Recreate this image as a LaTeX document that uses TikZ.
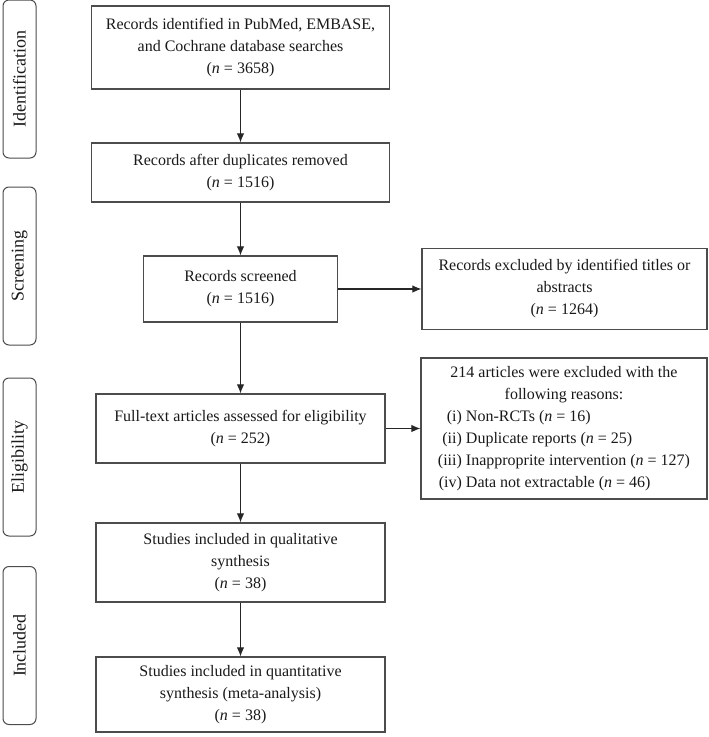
\documentclass[tikz,border=0pt]{standalone}
\usepackage{fontspec}
\setmainfont{Liberation Serif}
\usetikzlibrary{arrows.meta}

\begin{document}
\begin{tikzpicture}[x=1pt,y=-1pt,
  font=\fontsize{16}{22}\selectfont,
  box/.style={draw=black!70,line width=1.2pt,align=center,inner sep=0pt,text=black!90},
  phase/.style={draw=black!70,line width=1pt,rounded corners=6pt,rotate=90,
    minimum width=158pt,minimum height=33pt,inner sep=0pt,text=black!90,
    font=\fontsize{18}{22}\selectfont},
  arr/.style={->,>={Latex[length=9pt,width=7.5pt]},line width=1.1pt,draw=black!85}]
\useasboundingbox (0,0) rectangle (709,737);

\node[phase] (id) at (19.5,79) {Identification};
\node[phase] (sc) at (19.5,266) {Screening};
\node[phase] (el) at (19.5,457) {Eligibility};
\node[phase] (in) at (19.5,645.5) {Included};

\node[box,minimum width=298pt,minimum height=83pt] (1) at (240.5,47.5)
  {Records identified in PubMed, EMBASE,\\ and Cochrane database searches\\ (\textit{n} = 3658)};
\node[box,minimum width=298pt,minimum height=59pt] (2) at (240.5,172.5)
  {Records after duplicates removed\\ (\textit{n} = 1516)};
\node[box,minimum width=194pt,minimum height=66pt] (3) at (240.5,289)
  {Records screened\\ (\textit{n} = 1516)};
\node[box,minimum width=285pt,minimum height=81pt] (4) at (564.5,289)
  {Records excluded by identified titles or\\ abstracts\\ (\textit{n} = 1264)};
\node[box,minimum width=289pt,minimum height=69pt] (5) at (240.5,428.5)
  {Full-text articles assessed for eligibility\\ (\textit{n} = 252)};
\node[box,minimum width=286pt,minimum height=141pt] (6) at (564,428.5)
  {\begin{tabular}{@{}r@{ }l@{}}
    \multicolumn{2}{c}{214 articles were excluded with the}\\
    \multicolumn{2}{c}{following reasons:}\\
    (i) & Non-RCTs (\textit{n} = 16)\\
    (ii) & Duplicate reports (\textit{n} = 25)\\
    (iii) & Inapproprite intervention (\textit{n} = 127)\\
    (iv) & Data not extractable (\textit{n} = 46)
  \end{tabular}};
\node[box,minimum width=289pt,minimum height=79pt] (7) at (240.5,562.5)
  {Studies included in qualitative\\ synthesis\\ (\textit{n} = 38)};
\node[box,minimum width=289pt,minimum height=75pt] (8) at (240.5,694.5)
  {Studies included in quantitative\\ synthesis (meta-analysis)\\ (\textit{n} = 38)};

\draw[arr] (1) -- (2);
\draw[arr] (2) -- (3);
\draw[arr] (3) -- (4);
\draw[arr] (3) -- (5);
\draw[arr] (5) -- (6);
\draw[arr] (5) -- (7);
\draw[arr] (7) -- (8);
\end{tikzpicture}
\end{document}
